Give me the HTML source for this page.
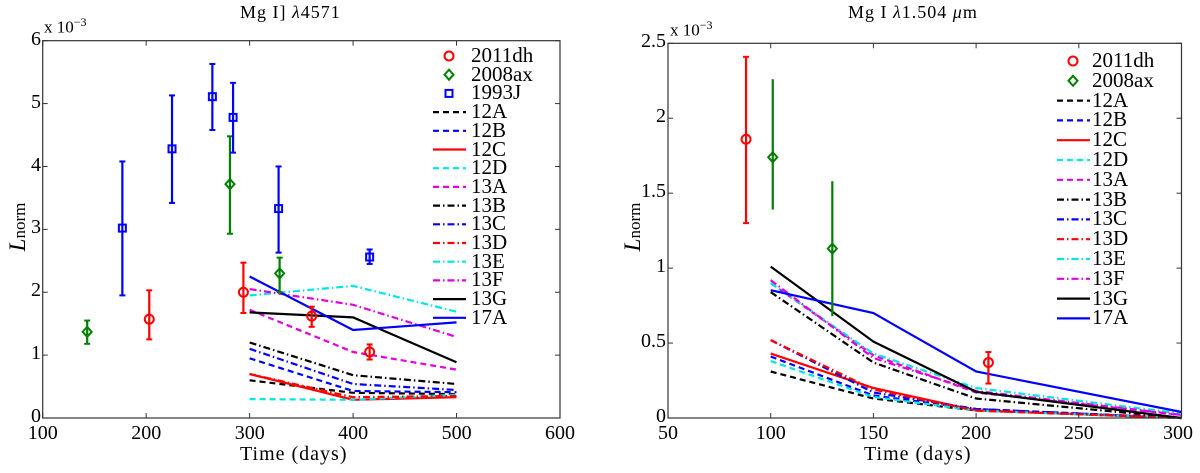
<!DOCTYPE html>
<html><head><meta charset="utf-8"><style>
html,body{margin:0;padding:0;background:#fff;}
svg{display:block;}
.t{position:absolute;font-family:"Liberation Serif","Times New Roman","DejaVu Serif",serif;line-height:1;white-space:nowrap;color:#000;}
.xt{font-size:20px;transform:translateX(-50%);top:423px;}
.yt{font-size:20px;transform:translateX(-100%);}
.lg{font-size:21px;}
.ov{font-family:"Liberation Serif","Times New Roman","DejaVu Serif",serif;}
</style></head><body>
<div id="wrap" style="position:relative;width:1200px;height:473px;">
<svg id="chart" width="1200" height="473" viewBox="0 0 1200 473"></svg>
<div id="labels" style="position:absolute;left:0;top:0;width:1200px;height:473px;pointer-events:none;">
  <div class="t xt" style="left:42.7px">100</div>
  <div class="t xt" style="left:146.2px">200</div>
  <div class="t xt" style="left:249.7px">300</div>
  <div class="t xt" style="left:353.1px">400</div>
  <div class="t xt" style="left:456.6px">500</div>
  <div class="t xt" style="left:560px">600</div>
  <div class="t yt" style="left:41px;top:406px">0</div>
  <div class="t yt" style="left:41px;top:343px">1</div>
  <div class="t yt" style="left:41px;top:280px">2</div>
  <div class="t yt" style="left:41px;top:217px">3</div>
  <div class="t yt" style="left:41px;top:155px">4</div>
  <div class="t yt" style="left:41px;top:92px">5</div>
  <div class="t yt" style="left:41px;top:29px">6</div>
  <div class="t xt" style="left:668px">50</div>
  <div class="t xt" style="left:770.7px">100</div>
  <div class="t xt" style="left:873.4px">150</div>
  <div class="t xt" style="left:976.1px">200</div>
  <div class="t xt" style="left:1078.8px">250</div>
  <div class="t xt" style="left:1178px">300</div>
  <div class="t yt" style="left:666px;top:406px">0</div>
  <div class="t yt" style="left:666px;top:331px">0.5</div>
  <div class="t yt" style="left:666px;top:256px">1</div>
  <div class="t yt" style="left:666px;top:181px">1.5</div>
  <div class="t yt" style="left:666px;top:106px">2</div>
  <div class="t yt" style="left:666px;top:31px">2.5</div>
  <div class="t lg" style="left:471px;top:45px">2011dh</div>
  <div class="t lg" style="left:471px;top:63.7px">2008ax</div>
  <div class="t lg" style="left:471px;top:82.4px">1993J</div>
  <div class="t lg" style="left:471px;top:101.1px">12A</div>
  <div class="t lg" style="left:471px;top:119.8px">12B</div>
  <div class="t lg" style="left:471px;top:138.5px">12C</div>
  <div class="t lg" style="left:471px;top:157.2px">12D</div>
  <div class="t lg" style="left:471px;top:175.9px">13A</div>
  <div class="t lg" style="left:471px;top:194.6px">13B</div>
  <div class="t lg" style="left:471px;top:213.3px">13C</div>
  <div class="t lg" style="left:471px;top:232px">13D</div>
  <div class="t lg" style="left:471px;top:250.7px">13E</div>
  <div class="t lg" style="left:471px;top:269.4px">13F</div>
  <div class="t lg" style="left:471px;top:288.1px">13G</div>
  <div class="t lg" style="left:471px;top:306.8px">17A</div>
  <div class="t lg" style="left:1092px;top:50px">2011dh</div>
  <div class="t lg" style="left:1092px;top:69.8px">2008ax</div>
  <div class="t lg" style="left:1092px;top:89.6px">12A</div>
  <div class="t lg" style="left:1092px;top:109.4px">12B</div>
  <div class="t lg" style="left:1092px;top:129.2px">12C</div>
  <div class="t lg" style="left:1092px;top:149px">12D</div>
  <div class="t lg" style="left:1092px;top:168.8px">13A</div>
  <div class="t lg" style="left:1092px;top:188.6px">13B</div>
  <div class="t lg" style="left:1092px;top:208.4px">13C</div>
  <div class="t lg" style="left:1092px;top:228.2px">13D</div>
  <div class="t lg" style="left:1092px;top:248px">13E</div>
  <div class="t lg" style="left:1092px;top:267.8px">13F</div>
  <div class="t lg" style="left:1092px;top:287.6px">13G</div>
  <div class="t lg" style="left:1092px;top:307.4px">17A</div>
</div>
</div>
<script>
// ---------- Left panel data (Mg I] 4571) ----------
const L_obs11dh_t = [203, 294, 360, 416];
const L_obs11dh_v = [1.57, 2.0, 1.62, 1.05];
const L_obs11dh_lo = [1.25, 1.67, 1.45, 0.93];
const L_obs11dh_hi = [2.03, 2.47, 1.77, 1.17];
const L_obs08ax_t = [143, 281, 329];
const L_obs08ax_v = [1.37, 3.72, 2.3];
const L_obs08ax_lo = [1.18, 2.93, 2.0];
const L_obs08ax_hi = [1.55, 4.48, 2.55];
const L_obs93J_t = [177, 225, 264, 284, 328, 416];
const L_obs93J_v = [3.02, 4.28, 5.11, 4.78, 3.33, 2.56];
const L_obs93J_lo = [1.95, 3.42, 4.58, 4.22, 2.63, 2.45];
const L_obs93J_hi = [4.08, 5.13, 5.63, 5.33, 4.0, 2.68];
const L_modelT = [300, 400, 500];
const L_12A = [0.6, 0.40, 0.38];
const L_12B = [0.95, 0.43, 0.41];
const L_12C = [0.70, 0.29, 0.33];
const L_12D = [0.30, 0.29, 0.37];
const L_13A = [1.72, 1.05, 0.77];
const L_13B = [1.20, 0.68, 0.54];
const L_13C = [1.10, 0.54, 0.445];
const L_13D = [0.70, 0.33, 0.35];
const L_13E = [1.95, 2.10, 1.69];
const L_13F = [2.05, 1.80, 1.29];
const L_13G = [1.68, 1.60, 0.885];
const L_17A = [2.25, 1.40, 1.52];
const L_xTicks = [100, 200, 300, 400, 500, 600];
const L_yTicks = [0, 1, 2, 3, 4, 5, 6];

// ---------- Right panel data (Mg I 1.504 um) ----------
const R_obs11dh_t = [88, 206];
const R_obs11dh_v = [1.86, 0.37];
const R_obs11dh_lo = [1.30, 0.23];
const R_obs11dh_hi = [2.41, 0.44];
const R_obs08ax_t = [101, 130];
const R_obs08ax_v = [1.74, 1.13];
const R_obs08ax_lo = [1.39, 0.68];
const R_obs08ax_hi = [2.26, 1.58];
const R_modelT = [100, 150, 200, 300];
const R_12A = [0.31, 0.13, 0.05, 0.0];
const R_12B = [0.41, 0.15, 0.06, 0.0];
const R_12C = [0.43, 0.20, 0.05, 0.0];
const R_12D = [0.38, 0.14, 0.05, 0.0];
const R_13A = [0.90, 0.42, 0.17, 0.02];
const R_13B = [0.84, 0.37, 0.13, 0.0];
const R_13C = [0.52, 0.17, 0.06, 0.0];
const R_13D = [0.52, 0.19, 0.05, 0.0];
const R_13E = [0.90, 0.43, 0.20, 0.03];
const R_13F = [0.92, 0.40, 0.18, 0.02];
const R_13G = [1.01, 0.51, 0.175, 0.0];
const R_17A = [0.853, 0.70, 0.31, 0.04];
const R_xTicks = [50, 100, 150, 200, 250, 300];
const R_yTicks = [0, 0.5, 1, 1.5, 2, 2.5];

const NS = "http://www.w3.org/2000/svg";
const svg = document.getElementById('chart');
function mk(tag, attrs, parent) {
  const e = document.createElementNS(NS, tag);
  for (const k in attrs) e.setAttribute(k, attrs[k]);
  (parent || svg).appendChild(e);
  return e;
}
const DASH = "6,4", DDOT = "7,3,1.5,3";
const styles = {
  '12A': ['#000', DASH], '12B': ['#0000ff', DASH], '12C': ['#ff0000', ''], '12D': ['#00e5e5', DASH],
  '13A': ['#e000e0', DASH], '13B': ['#000', DDOT], '13C': ['#0000ff', DDOT], '13D': ['#ff0000', DDOT],
  '13E': ['#00e5e5', DDOT], '13F': ['#e000e0', DDOT], '13G': ['#000', ''], '17A': ['#0000ff', '']
};

function panel(cfg) {
  const g = mk('g', {});
  
  
  const x = t => cfg.x0 + (t - cfg.xmin) / (cfg.xmax - cfg.xmin) * (cfg.x1 - cfg.x0);
  const y = v => cfg.y0 - (v - cfg.ymin) / (cfg.ymax - cfg.ymin) * (cfg.y0 - cfg.y1);
  cfg.models.forEach(([key, arr]) => {
    const st = styles[key];
    const pts = arr.map((v, i) => x(cfg.modelT[i]).toFixed(1) + ',' + y(v).toFixed(1)).join(' ');
    const pl = mk('polyline', {points: pts, fill: 'none', stroke: st[0], 'stroke-width': 2.2, 'stroke-dasharray': st[1]}, g);
    
    
  });
  cfg.obs.forEach(o => {
    o.t.forEach((t, i) => {
      const px = x(t);
      const eg = mk('g', {}, g);
      
      
      mk('line', {x1: px, x2: px, y1: y(o.lo[i]), y2: y(o.hi[i]), stroke: o.c, 'stroke-width': 2.2}, eg);
      if (o.caps) {
        mk('line', {x1: px - 3, x2: px + 3, y1: y(o.lo[i]), y2: y(o.lo[i]), stroke: o.c, 'stroke-width': 2}, eg);
        mk('line', {x1: px - 3, x2: px + 3, y1: y(o.hi[i]), y2: y(o.hi[i]), stroke: o.c, 'stroke-width': 2}, eg);
      }
      marker(eg, o.m, px, y(o.v[i]), o.c);
    });
  });
  const fr = mk('rect', {x: cfg.x0, y: cfg.y1, width: cfg.x1 - cfg.x0, height: cfg.y0 - cfg.y1, fill: 'none', stroke: '#333', 'stroke-width': 1.2}, g);
  
  
  cfg.xTicks.forEach(t => {
    const px = x(t);
    mk('line', {x1: px, x2: px, y1: cfg.y0, y2: cfg.y0 - 5, stroke: '#333'}, g);
    mk('line', {x1: px, x2: px, y1: cfg.y1, y2: cfg.y1 + 5, stroke: '#333'}, g);
  });
  cfg.yTicks.forEach(v => {
    const py = y(v);
    mk('line', {x1: cfg.x0, x2: cfg.x0 + 5, y1: py, y2: py, stroke: '#333'}, g);
    mk('line', {x1: cfg.x1, x2: cfg.x1 - 5, y1: py, y2: py, stroke: '#333'}, g);
  });
  const lg = mk('g', {}, g);
  
  
  let ry = cfg.legY;
  cfg.obs.forEach(o => {
    marker(lg, o.m, cfg.legMx, ry, o.c);
    ry += cfg.legStep;
  });
  cfg.models.forEach(([key]) => {
    const st = styles[key];
    mk('line', {x1: cfg.legMx - 16, x2: cfg.legMx + 17, y1: ry, y2: ry, stroke: st[0], 'stroke-width': 2.2, 'stroke-dasharray': st[1]}, lg);
    ry += cfg.legStep;
  });
}
function marker(g, m, px, py, c) {
  if (m === 'o') mk('circle', {cx: px, cy: py, r: 4.5, fill: 'none', stroke: c, 'stroke-width': 2}, g);
  else if (m === 'd') mk('polygon', {points: `${px},${py-5} ${px+4.5},${py} ${px},${py+5} ${px-4.5},${py}`, fill: 'none', stroke: c, 'stroke-width': 2}, g);
  else mk('rect', {x: px - 3.5, y: py - 3.5, width: 7, height: 7, fill: 'none', stroke: c, 'stroke-width': 2}, g);
}

panel({
  name: 'left-panel', x0: 42.7, x1: 560, y0: 418, y1: 40.7, xmin: 100, xmax: 600, ymin: 0, ymax: 6,
  xTicks: L_xTicks, yTicks: L_yTicks, modelT: L_modelT,
  models: [['12A', L_12A], ['12B', L_12B], ['12C', L_12C], ['12D', L_12D], ['13A', L_13A], ['13B', L_13B],
           ['13C', L_13C], ['13D', L_13D], ['13E', L_13E], ['13F', L_13F], ['13G', L_13G], ['17A', L_17A]],
  obs: [
    {id: '2011dh', m: 'o', c: '#ff0000', caps: true, t: L_obs11dh_t, v: L_obs11dh_v, lo: L_obs11dh_lo, hi: L_obs11dh_hi},
    {id: '2008ax', m: 'd', c: '#007f00', caps: true, t: L_obs08ax_t, v: L_obs08ax_v, lo: L_obs08ax_lo, hi: L_obs08ax_hi},
    {id: '1993j', m: 's', c: '#0000ff', caps: true, t: L_obs93J_t, v: L_obs93J_v, lo: L_obs93J_lo, hi: L_obs93J_hi}
  ],
  legY: 56, legStep: 18.7, legMx: 449
});
panel({
  name: 'right-panel', x0: 668, x1: 1181.5, y0: 418, y1: 43.3, xmin: 50, xmax: 300, ymin: 0, ymax: 2.5,
  xTicks: R_xTicks, yTicks: R_yTicks, modelT: R_modelT,
  models: [['12A', R_12A], ['12B', R_12B], ['12C', R_12C], ['12D', R_12D], ['13A', R_13A], ['13B', R_13B],
           ['13C', R_13C], ['13D', R_13D], ['13E', R_13E], ['13F', R_13F], ['13G', R_13G], ['17A', R_17A]],
  obs: [
    {id: '2011dh', m: 'o', c: '#ff0000', caps: true, t: R_obs11dh_t, v: R_obs11dh_v, lo: R_obs11dh_lo, hi: R_obs11dh_hi},
    {id: '2008ax', m: 'd', c: '#007f00', caps: false, t: R_obs08ax_t, v: R_obs08ax_v, lo: R_obs08ax_lo, hi: R_obs08ax_hi}
  ],
  legY: 61, legStep: 19.8, legMx: 1073
});
</script>
<div class="ov" style="position:absolute;left:0;top:0;width:1200px;height:473px;pointer-events:none;">
  <div style="position:absolute;left:240px;top:2px;font-size:18px;letter-spacing:1px;white-space:nowrap;">Mg I] <i>λ</i>4571</div>
  <div style="position:absolute;left:848px;top:2px;font-size:18px;letter-spacing:1px;white-space:nowrap;">Mg I <i>λ</i>1.504 <i>μ</i>m</div>
  <div style="position:absolute;left:44px;top:15px;font-size:17px;white-space:nowrap;">x 10<sup style="font-size:12px">−3</sup></div>
  <div style="position:absolute;left:670px;top:18px;font-size:17px;white-space:nowrap;">x 10<sup style="font-size:12px">−3</sup></div>
  <div style="position:absolute;left:240px;top:443px;font-size:20px;letter-spacing:1px;white-space:nowrap;">Time (days)</div>
  <div style="position:absolute;left:864px;top:443px;font-size:20px;letter-spacing:1px;white-space:nowrap;">Time (days)</div>
  <div style="position:absolute;left:-27px;top:214px;font-size:23px;transform:rotate(-90deg);width:90px;text-align:center;white-space:nowrap;"><i>L</i><span style="font-size:17px">norm</span></div>
  <div style="position:absolute;left:588px;top:214px;font-size:23px;transform:rotate(-90deg);width:90px;text-align:center;white-space:nowrap;"><i>L</i><span style="font-size:17px">norm</span></div>
</div>
</body></html>
